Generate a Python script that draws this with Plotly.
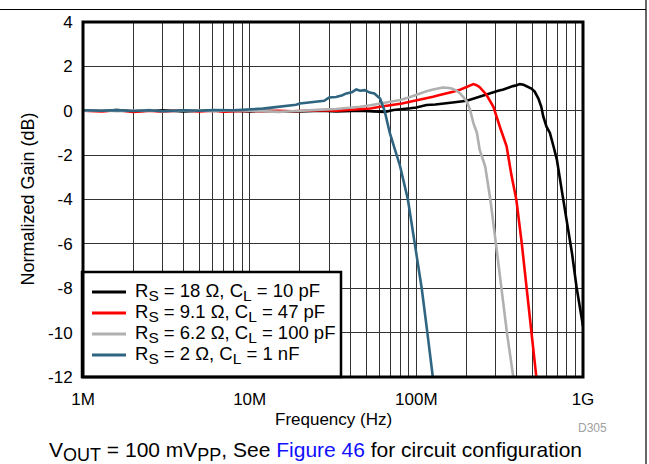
import plotly.graph_objects as go

# ---- data (frequency in MHz, normalized gain in dB) ----
f_18 = [1, 1.3, 1.6, 2, 2.5, 3, 4, 5, 6, 7, 8, 10, 12, 15, 18, 22, 27, 33, 40, 46, 55, 65, 73, 80,
        92, 100, 115, 130, 144, 170, 201, 220, 240, 265, 290, 310, 333, 355, 380, 400, 418, 440,
        466, 490, 513, 540, 562, 578, 604, 633, 665, 697, 750, 800, 859, 914, 960, 1000]
g_18 = [0.02, 0.0, 0.03, -0.02, 0.0, 0.02, -0.03, 0.0, 0.02, -0.02, 0.0, -0.03, 0.0, -0.02, -0.04,
        -0.02, 0.0, -0.03, -0.02, 0.0, -0.03, -0.05, 0.03, 0.05, 0.11, 0.15, 0.26, 0.28, 0.33, 0.38,
        0.45, 0.55, 0.63, 0.75, 0.86, 0.9, 0.96, 1.05, 1.11, 1.15, 1.2, 1.17, 1.09, 1.0, 0.86, 0.55,
        0.18, -0.27, -0.72, -1.0, -1.6, -2.2, -3.7, -4.92, -6.42, -7.93, -8.9, -9.7]

f_9 = [1, 1.3, 1.6, 2, 2.5, 3, 4, 5, 6, 7, 8, 10, 12, 15, 18, 22, 27, 33, 40, 46, 53, 60.6, 72.6,
       82, 91.5, 103, 115, 126, 138, 152, 166, 183, 201, 212, 220, 230, 240, 264, 290, 317, 348,
       372, 398, 429, 459, 490, 524, 530]
g_9 = [0.0, -0.03, 0.02, -0.05, 0.0, -0.04, 0.02, -0.03, 0.0, -0.04, -0.02, 0.0, -0.03, 0.0, -0.02,
       0.0, 0.02, 0.0, 0.03, 0.05, 0.1, 0.18, 0.26, 0.33, 0.41, 0.48, 0.56, 0.63, 0.71, 0.78, 0.86,
       0.95, 1.06, 1.13, 1.2, 1.15, 1.06, 0.71, 0.18, -0.72, -1.6, -2.9, -4.0, -5.97, -8.0, -10.03,
       -11.9, -12.3]

f_6 = [1, 1.3, 1.6, 2, 2.5, 3, 4, 5, 6, 7, 8, 10, 12, 15, 18, 22, 27, 33, 40, 46, 53, 60.6, 70, 80,
       92, 105, 115, 126, 135, 144, 153, 163, 173, 183, 192, 201, 210, 220, 231, 240, 259, 278, 300,
       324, 350, 380, 390]
g_6 = [0.0, 0.02, -0.02, 0.0, 0.03, -0.02, 0.0, 0.02, -0.02, 0.0, 0.02, 0.0, -0.03, -0.05, -0.02,
       0.0, 0.05, 0.08, 0.12, 0.18, 0.25, 0.33, 0.4, 0.48, 0.62, 0.78, 0.88, 0.96, 1.02, 1.05, 1.04,
       1.0, 0.92, 0.78, 0.6, 0.41, 0.05, -0.56, -1.0, -1.77, -2.52, -4.0, -5.97, -8.0, -10.03, -11.9,
       -12.5]

f_2 = [1, 1.3, 1.6, 2, 2.5, 3, 4, 5, 6, 7, 8, 9, 10, 11, 12, 13.5, 15, 17, 19, 20, 22, 24, 26, 28,
       30, 33, 36, 38, 41, 43.6, 46, 49, 52.6, 56, 60.6, 64.5, 69.3, 74, 79.9, 89, 98, 107.7, 116.6,
       125, 127]
g_2 = [0.02, 0.0, 0.03, -0.01, 0.02, -0.02, 0.02, 0.0, 0.03, 0.02, 0.02, 0.04, 0.05, 0.08, 0.1,
       0.14, 0.18, 0.2, 0.27, 0.33, 0.36, 0.4, 0.42, 0.45, 0.6, 0.62, 0.7, 0.78, 0.83, 0.96, 0.9,
       0.93, 0.82, 0.78, 0.55, 0.0, -1.0, -1.7, -2.5, -4.0, -5.97, -8.0, -10.03, -11.9, -12.3]

SUBL = "<sub><span style='font-size:15.5px'>%s</span></sub>"
series_names = ["R" + SUBL % "S" + " = 18 Ω, C" + SUBL % "L" + " = 10 pF",
                "R" + SUBL % "S" + " = 9.1 Ω, C" + SUBL % "L" + " = 47 pF",
                "R" + SUBL % "S" + " = 6.2 Ω, C" + SUBL % "L" + " = 100 pF",
                "R" + SUBL % "S" + " = 2 Ω, C" + SUBL % "L" + " = 1 nF"]
series_colors = ["#000000", "#FF0000", "#B0B0B0", "#2F6580"]

x_tick_labels = ["1M", "10M", "100M", "1G"]
y_ticks = [4, 2, 0, -2, -4, -6, -8, -10, -12]

FONT = "Arial, 'Liberation Sans', sans-serif"

fig = go.Figure()
for f, g, name, color in zip([f_18, f_9, f_6, f_2], [g_18, g_9, g_6, g_2], series_names, series_colors):
    fig.add_trace(go.Scatter(x=[v * 1e6 for v in f], y=g, mode="lines", name=name,
                             line=dict(color=color, width=2.6), showlegend=False))

# grid positions on log axis
xtv, xtt = [], []
for d in range(6, 9):
    for m in range(1, 10):
        xtv.append(m * 10 ** d)
        xtt.append(x_tick_labels[d - 6] if m == 1 else "")
xtv.append(1e9)
xtt.append(x_tick_labels[3])

fig.update_layout(
    width=649, height=464, autosize=False,
    margin=dict(l=83, r=66, t=22, b=87),
    paper_bgcolor="white", plot_bgcolor="white",
    font=dict(family=FONT, size=17, color="black"),
    showlegend=False,
    xaxis=dict(type="log", range=[6, 9], tickmode="array", tickvals=xtv, ticktext=xtt,
               showgrid=True, gridcolor="#333333", gridwidth=1, zeroline=False,
               showline=False, ticks="outside", ticklen=7, tickcolor="rgba(0,0,0,0)",
               tickfont=dict(size=17)),
    yaxis=dict(range=[-12, 4], tickmode="array", tickvals=y_ticks,
               ticktext=[str(v) for v in y_ticks],
               showgrid=True, gridcolor="#333333", gridwidth=1, zeroline=False,
               showline=False, ticks="outside", ticklen=6, tickcolor="rgba(0,0,0,0)",
               tickfont=dict(size=17)),
)

# legend box (drawn above the curves, inside the plot's lower-left corner)
fig.add_shape(type="rect", xref="paper", yref="paper", x0=-0.002, y0=0, x1=0.516, y1=0.296,
              fillcolor="white", line=dict(color="black", width=2.5), layer="above")
row_y = [0.2394, 0.1803, 0.1211, 0.062]
for yy, name, color in zip(row_y, series_names, series_colors):
    fig.add_shape(type="line", xref="paper", yref="paper", x0=0.018, x1=0.086, y0=yy, y1=yy,
                  line=dict(color=color, width=3), layer="above")
    fig.add_annotation(text=name, xref="paper", yref="paper", x=0.1, y=yy, showarrow=False,
                       xanchor="left", yanchor="middle", font=dict(size=18.5))

# plot frame
fig.add_shape(type="rect", xref="paper", yref="paper", x0=0, y0=0, x1=1, y1=1,
              line=dict(color="black", width=3), layer="above")
# outer page borders
fig.add_shape(type="line", xref="paper", yref="paper", x0=-0.2, x1=1.126, y0=1.0352, y1=1.0352,
              line=dict(color="black", width=1.2))
fig.add_shape(type="line", xref="paper", yref="paper", x0=1.126, x1=1.126, y0=-0.3, y1=1.07,
              line=dict(color="black", width=1.2))

fig.add_annotation(text="Frequency (Hz)", xref="paper", yref="paper", x=0.5, y=-0.121,
                   showarrow=False, font=dict(size=17), xanchor="center", yanchor="middle")
fig.add_annotation(text="Normalized Gain (dB)", xref="paper", yref="paper", x=-0.112, y=0.5,
                   showarrow=False, font=dict(size=18), textangle=-90, xanchor="center", yanchor="middle")
fig.add_annotation(text="D305", xref="paper", yref="paper", x=1.052, y=-0.1437,
                   showarrow=False, font=dict(size=12, color="#A0A0A0"), xanchor="right", yanchor="middle")
SUBC = "<sub><span style='font-size:18px'>%s</span></sub>"
fig.add_annotation(text="V" + SUBC % "OUT" + " = 100 mV" + SUBC % "PP" +
                   ", See <span style='color:#1010FF'>Figure 46</span> for circuit configuration",
                   xref="paper", yref="paper", x=0.464, y=-0.2085,
                   showarrow=False, font=dict(size=21), xanchor="center", yanchor="middle")

fig.write_html("out.html")
